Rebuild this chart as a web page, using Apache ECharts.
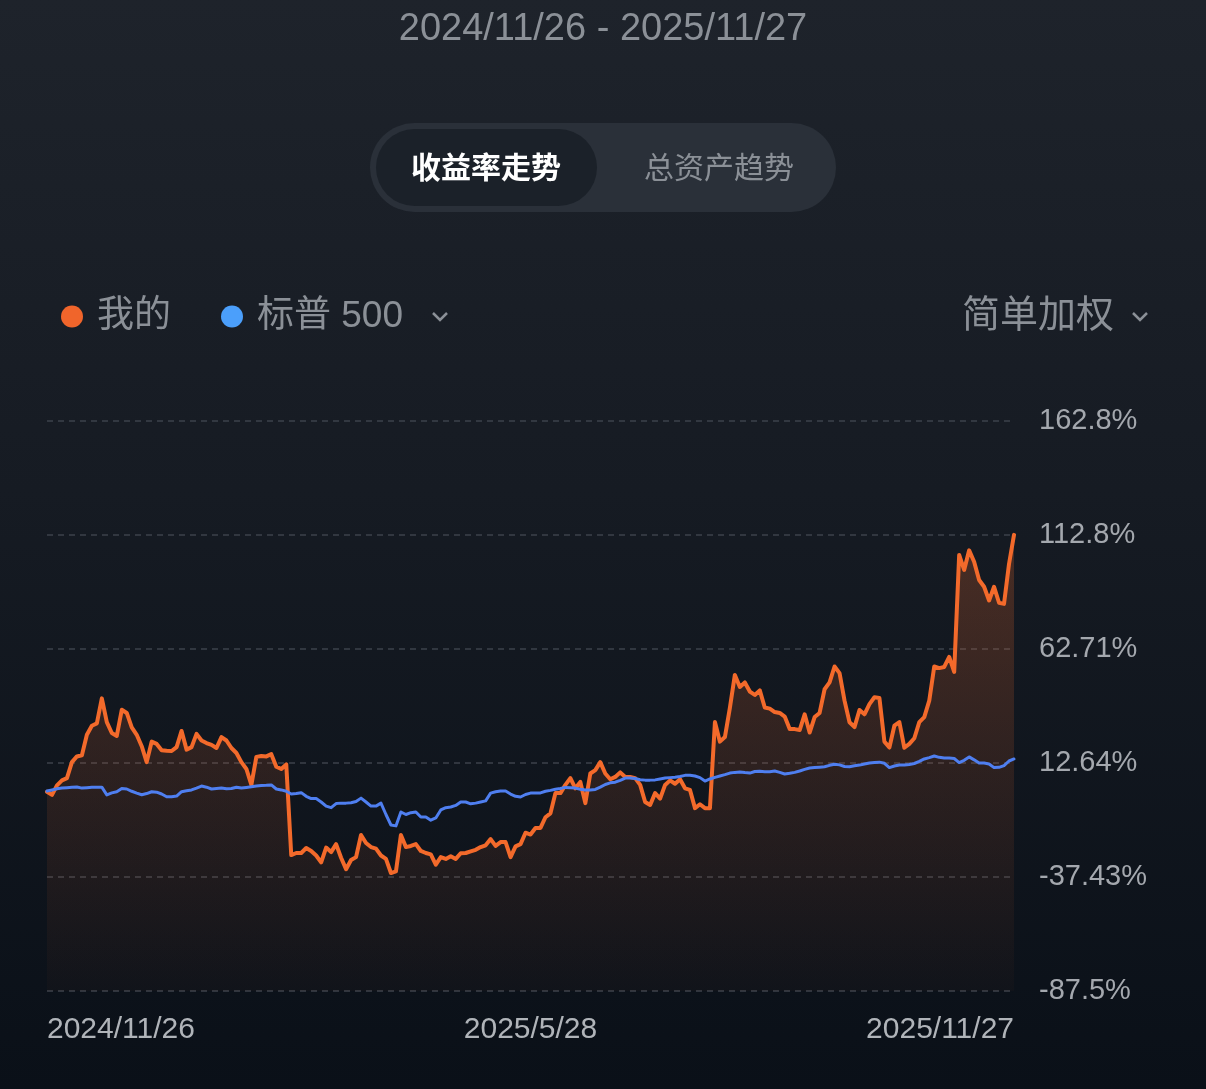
<!DOCTYPE html>
<html>
<head>
<meta charset="utf-8">
<style>
  html, body { margin: 0; padding: 0; background: #151a21; }
  #chart { width: 1206px; height: 1089px; }
</style>
<script src="https://cdn.jsdelivr.net/npm/echarts@6/dist/echarts.min.js"></script>
</head>
<body>
<div id="chart"></div>
<script>
const FONT = '"Liberation Sans", "Noto Sans CJK SC", sans-serif'

// 收益率 (%), 2024/11/26 - 2025/11/27
const myReturn = [
  0, -1.4, 2.8, 5, 6, 13, 15.5, 16, 25, 29,
  30, 41, 30.6, 25.8, 24.5, 36, 34.6, 28.3, 25, 20,
  13, 22, 21, 18.2, 18, 17.9, 19.6, 26.7, 18.5, 19.6,
  25.4, 22.5, 21.4, 20.6, 19.2, 24, 22.5, 19.2, 17, 13,
  10, 3, 15.3, 15.7, 15.5, 16.5, 11, 10, 12, -27.8,
  -26.9, -26.9, -24.7, -26, -28, -31, -24.5, -26.5, -23, -29,
  -34, -30, -28.7, -19, -22.5, -24.3, -25, -28, -29.5, -35.7,
  -35, -19, -24.3, -23.8, -23, -26, -26.9, -27.5, -32, -28.7,
  -29.5, -28.3, -29.5, -27, -26.9, -26.2, -25.5, -24.3, -23.5, -20.8,
  -23.8, -22.1, -22.1, -28.7, -24, -23, -18, -18.8, -15.9, -15.9,
  -11.2, -9.5, -0.6, -0.6, 3, 6, 1.5, 4.3, -5, 8,
  9.5, 13, 8, 5.5, 6.5, 8.5, 6.5, 6.5, 6, 3,
  -4.5, -5.8, -0.6, -3, 3, 5, 3.5, 5.5, 1.5, 0.8,
  -7.2, -5.5, -7.2, -7.2, 30.6, 22, 24, 36.8, 51.3, 46,
  48, 44, 42.5, 44.5, 37, 36.5, 35, 34.6, 33, 27.5,
  27.5, 27.1, 34, 26, 32.8, 34.6, 45, 48, 55, 52.1,
  40, 30.5, 28.4, 35.9, 34, 38.5, 41.5, 41.2, 22, 19.4,
  29, 30.6, 19.3, 21, 23.5, 30.6, 32.8, 40, 55, 54.3,
  54.8, 59.2, 52.6, 104, 97.4, 106, 101, 93, 90, 84,
  90, 83, 82.5, 100, 112.8
]

const sp500Return = [
  0.3, 0.8, 1.3, 1.6, 1.8, 2, 2.1, 1.6, 1.8, 2,
  2, 2, -1.4, -0.5, 0, 1.4, 1.2, 0.2, -0.6, -1.3,
  -0.8, 0, -0.2, -1, -2.2, -2.2, -1.9, 0, 0.4, 0.8,
  1.6, 2.5, 2, 1.2, 1.4, 1.6, 1.3, 1.4, 2, 1.6,
  1.9, 2.2, 2.5, 2.7, 2.8, 3, 1.2, 0.8, 0.2, -1,
  -0.8, -0.4, -2, -3, -3, -4.5, -6.3, -7, -5.2, -5,
  -5, -4.8, -4.3, -2.8, -4.5, -6.3, -6.3, -5, -10, -14.6,
  -15, -8.9, -10, -9.2, -8.9, -11.1, -11.1, -12.5, -11.5, -8,
  -7, -6.7, -6, -4.5, -4.5, -5.3, -5, -4.5, -4, -0.6,
  0, 0.3, 0.3, -1, -2, -2.3, -1.2, -0.6, -0.6, -0.5,
  0.2, 0.6, 1.1, 1.4, 1.9, 1.8, 1.6, 1.1, 0.8, 0.8,
  1, 2, 3.2, 3.9, 4.2, 5, 6, 6, 5.8, 5.3,
  5.1, 5.1, 5.2, 5.6, 6, 6.2, 6.4, 6.7, 7.2, 7.2,
  6.9, 6.2, 4.7, 5.6, 6.3, 6.9, 7.5, 8.2, 8.5, 8.7,
  8.4, 8.2, 8.9, 9, 8.8, 8.8, 9.1, 8.5, 7.8, 8.1,
  8.5, 9.1, 9.8, 10.4, 10.6, 10.8, 11, 11.6, 12.1, 11.8,
  11.1, 11, 11.4, 11.7, 12.2, 12.6, 12.8, 13, 12.5, 10.6,
  11.3, 11.7, 11.7, 12, 12.4, 13.3, 14.4, 15, 15.7, 15.1,
  14.8, 14.8, 14.6, 12.8, 13.8, 15.3, 14, 12.6, 12.6, 12.2,
  10.6, 10.7, 11.5, 13.5, 14.4
]

const xTickLabels = ['2024/11/26', '2025/5/28', '2025/11/27']
const yTickLabels = ['-87.5%', '-37.43%', '12.64%', '62.71%', '112.8%', '162.8%']
const yMin = -87.5
const yMax = 162.8
const yStep = (yMax - yMin) / 5

const categories = myReturn.map((_, i) => String(i))
const lastIdx = categories.length - 1
const midIdx = Math.round(lastIdx / 2)

const chart = echarts.init(document.getElementById('chart'))

const grey = '#8b9097'

const option = {
  backgroundColor: new echarts.graphic.LinearGradient(0, 0, 0, 1, [
    { offset: 0, color: '#1e232b' },
    { offset: 0.45, color: '#161b23' },
    { offset: 1, color: '#0a1018' }
  ]),
  animation: false,
  legend: {
    left: 56,
    top: 293,
    icon: 'circle',
    itemWidth: 22,
    itemHeight: 22,
    itemGap: 50,
    selectedMode: false,
    textStyle: { fontSize: 37, color: grey, fontFamily: FONT, padding: [2, 0, 0, 9] },
    data: ['我的', '标普 500']
  },
  graphic: [
    {
      type: 'text', x: 603, y: 30,
      style: { text: '2024/11/26 - 2025/11/27', fontSize: 38, fill: grey, fontFamily: FONT, align: 'center', verticalAlign: 'middle' }
    },
    {
      type: 'rect', shape: { x: 370, y: 123, width: 466, height: 89, r: 44.5 },
      style: { fill: '#2a3039' }
    },
    {
      type: 'rect', shape: { x: 376, y: 129, width: 221, height: 77, r: 38.5 },
      style: { fill: '#1b2129' }
    },
    {
      type: 'text', x: 486, y: 170,
      style: { text: '收益率走势', fontSize: 30, fontWeight: 'bold', fill: '#ffffff', fontFamily: FONT, align: 'center', verticalAlign: 'middle' }
    },
    {
      type: 'text', x: 719, y: 170,
      style: { text: '总资产趋势', fontSize: 30, fill: grey, fontFamily: FONT, align: 'center', verticalAlign: 'middle' }
    },
    {
      type: 'polyline', shape: { points: [[433, 313], [440, 320], [447, 313]] },
      style: { stroke: grey, lineWidth: 2.5, fill: null }
    },
    {
      type: 'text', x: 962, y: 317,
      style: { text: '简单加权', fontSize: 38, fill: grey, fontFamily: FONT, verticalAlign: 'middle' }
    },
    {
      type: 'polyline', shape: { points: [[1133, 313], [1140, 320], [1147, 313]] },
      style: { stroke: grey, lineWidth: 2.5, fill: null }
    }
  ],
  grid: { left: 47, right: 192, top: 421, bottom: 98 },
  xAxis: {
    type: 'category',
    data: categories,
    boundaryGap: false,
    axisLine: { show: false },
    axisTick: { show: false },
    axisLabel: {
      interval: (idx) => idx === 0 || idx === midIdx || idx === lastIdx,
      formatter: (v, idx) => idx === 0 ? xTickLabels[0] : idx === lastIdx ? xTickLabels[2] : xTickLabels[1],
      alignMinLabel: 'left',
      alignMaxLabel: 'right',
      margin: 24,
      fontSize: 30,
      color: '#b0b4b9',
      fontFamily: FONT
    }
  },
  yAxis: {
    type: 'value',
    position: 'right',
    min: yMin,
    max: yMax,
    interval: yStep,
    axisLine: { show: false },
    axisTick: { show: false },
    axisLabel: {
      margin: 25,
      fontSize: 29,
      color: '#a4a8ae',
      fontFamily: FONT,
      formatter: (v) => yTickLabels[Math.round((v - yMin) / yStep)] || ''
    },
    splitLine: { lineStyle: { color: '#3c424b', type: [6, 5], width: 1.5 } }
  },
  series: [
    {
      name: '我的',
      type: 'line',
      data: myReturn,
      showSymbol: false,
      symbol: 'none',
      itemStyle: { color: '#f0652b' },
      lineStyle: { color: '#f36a2b', width: 4, join: 'round', cap: 'round' },
      areaStyle: {
        origin: 'start',
        color: new echarts.graphic.LinearGradient(0, 0, 0, 1, [
          { offset: 0, color: 'rgba(242,107,44,0.34)' },
          { offset: 1, color: 'rgba(242,107,44,0.03)' }
        ])
      },
      emphasis: { disabled: true },
      z: 2
    },
    {
      name: '标普 500',
      type: 'line',
      data: sp500Return,
      showSymbol: false,
      symbol: 'none',
      itemStyle: { color: '#4b9ffb' },
      lineStyle: { color: '#4f7ff0', width: 3, join: 'round', cap: 'round' },
      emphasis: { disabled: true },
      z: 3
    }
  ]
}

chart.setOption(option)
</script>
</body>
</html>
